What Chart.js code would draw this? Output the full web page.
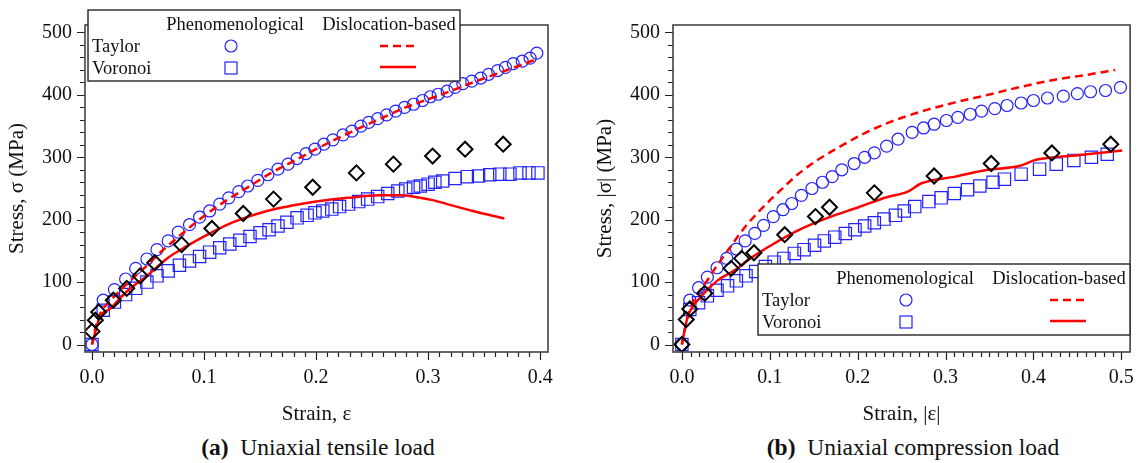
<!DOCTYPE html>
<html><head><meta charset="utf-8">
<script src="https://cdn.jsdelivr.net/npm/chart.js@4.4.1/dist/chart.umd.min.js"></script>
<style>
html,body{margin:0;padding:0;background:#fff;}
#wrap{position:relative;width:1148px;height:463px;overflow:hidden;background:#fff;}
canvas{position:absolute;top:0;}
.cap{position:absolute;top:433px;font-family:"Liberation Serif","Times New Roman",serif;font-size:23.5px;line-height:28px;color:#111;white-space:nowrap;text-align:center;width:400px;}
</style></head><body>
<div id="wrap">
<canvas id="cA" width="574" height="430" style="left:0"></canvas>
<canvas id="cB" width="574" height="430" style="left:574px"></canvas>
<div class="cap" style="left:118px"><b>(a)</b>&nbsp; Uniaxial tensile load</div>
<div class="cap" style="left:713px"><b>(b)</b>&nbsp; Uniaxial compression load</div>
</div>
<script>
// ---------- tick labels ----------
const yTicks = [0, 100, 200, 300, 400, 500];
const yTickLabels = ['0', '100', '200', '300', '400', '500'];
const xTicksA = [0, 0.1, 0.2, 0.3, 0.4];
const xTickLabelsA = ['0.0', '0.1', '0.2', '0.3', '0.4'];
const xTicksB = [0, 0.1, 0.2, 0.3, 0.4, 0.5];
const xTickLabelsB = ['0.0', '0.1', '0.2', '0.3', '0.4', '0.5'];

// ---------- (a) uniaxial tensile ----------
const tensTaylorPhenX = [0, 0.010, 0.020, 0.030, 0.039, 0.049, 0.058, 0.068, 0.077, 0.087, 0.096, 0.105, 0.114, 0.122, 0.131, 0.139, 0.148, 0.157, 0.166, 0.175, 0.183, 0.191, 0.199, 0.207, 0.215, 0.224, 0.232, 0.240, 0.247, 0.255, 0.263, 0.271, 0.279, 0.287, 0.295, 0.302, 0.309, 0.317, 0.324, 0.331, 0.339, 0.347, 0.354, 0.362, 0.369, 0.376, 0.384, 0.391, 0.397];
const tensTaylorPhenY = [0, 71, 88, 105, 122, 137, 152, 166, 180, 192, 204, 214, 225, 235, 245, 254, 263, 272, 281, 289, 298, 306, 313, 321, 328, 336, 342, 350, 356, 362, 368, 374, 380, 385, 391, 397, 401, 406, 412, 418, 422, 427, 433, 439, 444, 450, 454, 459, 467];
const tensVoronoiPhenX = [0, 0.010, 0.020, 0.030, 0.039, 0.049, 0.058, 0.068, 0.078, 0.087, 0.096, 0.105, 0.114, 0.123, 0.132, 0.141, 0.150, 0.158, 0.166, 0.174, 0.183, 0.192, 0.199, 0.206, 0.214, 0.221, 0.229, 0.238, 0.246, 0.255, 0.264, 0.273, 0.280, 0.287, 0.293, 0.300, 0.306, 0.313, 0.324, 0.335, 0.345, 0.355, 0.364, 0.373, 0.382, 0.390, 0.398];
const tensVoronoiPhenY = [0, 55, 68, 80, 90, 100, 110, 118, 127, 134, 141, 148, 155, 161, 167, 173, 179, 184, 190, 196, 203, 207, 211, 214, 217, 221, 225, 229, 233, 237, 242, 246, 249, 252, 254, 257, 260, 262, 266, 269, 270, 272, 273, 273, 275, 275, 275];
const tensTaylorDislX = [0, 0.005, 0.01, 0.02, 0.03, 0.04, 0.05, 0.06, 0.08, 0.10, 0.12, 0.14, 0.16, 0.18, 0.20, 0.22, 0.24, 0.26, 0.28, 0.30, 0.32, 0.34, 0.36, 0.38, 0.395];
const tensTaylorDislY = [0, 40, 57, 77, 95, 112, 128, 146, 177, 206, 231, 253, 275, 294, 313, 331, 348, 364, 380, 393, 406, 420, 433, 446, 456];
const tensVoronoiDislX = [0, 0.007, 0.016, 0.031, 0.049, 0.067, 0.085, 0.103, 0.126, 0.156, 0.18, 0.20, 0.228, 0.257, 0.275, 0.290, 0.305, 0.317, 0.34, 0.368];
const tensVoronoiDislY = [0, 44, 57, 85, 110, 138, 158, 176, 196, 214, 223, 229, 235, 239, 239, 236, 231, 225, 214, 202];
const tensExpX = [0, 0.003, 0.006, 0.019, 0.031, 0.043, 0.056, 0.080, 0.107, 0.135, 0.162, 0.197, 0.236, 0.269, 0.304, 0.333, 0.367];
const tensExpY = [21, 39, 52, 71, 90, 110, 131, 160, 186, 210, 233, 252, 275, 289, 302, 313, 321];

// ---------- (b) uniaxial compression ----------
const compTaylorPhenX = [0, 0.009, 0.019, 0.029, 0.040, 0.051, 0.062, 0.072, 0.083, 0.093, 0.104, 0.115, 0.125, 0.136, 0.148, 0.160, 0.171, 0.182, 0.196, 0.208, 0.219, 0.233, 0.246, 0.262, 0.275, 0.287, 0.301, 0.314, 0.328, 0.341, 0.356, 0.370, 0.386, 0.400, 0.416, 0.434, 0.450, 0.465, 0.482, 0.499];
const compTaylorPhenY = [0, 71, 91, 108, 123, 138, 153, 166, 178, 191, 205, 216, 226, 239, 250, 260, 269, 280, 290, 300, 307, 318, 329, 340, 347, 353, 359, 364, 369, 374, 378, 383, 387, 391, 395, 398, 402, 405, 407, 412];
const compVoronoiPhenX = [0, 0.009, 0.019, 0.029, 0.040, 0.052, 0.062, 0.073, 0.084, 0.095, 0.105, 0.116, 0.128, 0.139, 0.151, 0.162, 0.174, 0.186, 0.197, 0.208, 0.219, 0.230, 0.243, 0.253, 0.265, 0.281, 0.295, 0.310, 0.325, 0.339, 0.354, 0.367, 0.386, 0.407, 0.426, 0.446, 0.466, 0.484];
const compVoronoiPhenY = [0, 56, 67, 78, 87, 94, 102, 110, 117, 125, 132, 138, 146, 152, 159, 166, 172, 178, 184, 190, 195, 201, 207, 214, 221, 229, 235, 242, 248, 254, 260, 265, 273, 281, 289, 295, 300, 305];
const compTaylorDislX = [0, 0.007, 0.03, 0.056, 0.074, 0.091, 0.112, 0.134, 0.157, 0.186, 0.21, 0.236, 0.274, 0.311, 0.348, 0.386, 0.423, 0.46, 0.493];
const compTaylorDislY = [0, 47, 105, 158, 192, 218, 247, 275, 298, 322, 340, 356, 374, 388, 400, 413, 424, 432, 440];
const compVoronoiDislX = [0, 0.006, 0.022, 0.040, 0.059, 0.078, 0.104, 0.134, 0.168, 0.201, 0.233, 0.257, 0.272, 0.311, 0.348, 0.384, 0.403, 0.423, 0.449, 0.475, 0.501];
const compVoronoiDislY = [0, 41, 77, 102, 118, 138, 161, 184, 204, 220, 236, 245, 258, 269, 280, 286, 296, 300, 303, 307, 311];
const compExpX = [0, 0.005, 0.009, 0.026, 0.056, 0.068, 0.082, 0.117, 0.152, 0.168, 0.219, 0.287, 0.352, 0.421, 0.488];
const compExpY = [0, 40, 57, 82, 122, 138, 147, 176, 205, 220, 243, 270, 290, 307, 321];

// ---------- styling ----------
const FONT = '"Liberation Serif","Times New Roman",serif';
const BLUE = '#2222ff';
const RED = '#ff0000';
const DASH = [8, 5];
const TXT = '#111';

const pts = (xs, ys) => xs.map((x, i) => ({x: x, y: ys[i]}));

function datasets(d) {
  return [
    {label: 'Experiment', data: pts(d.expX, d.expY), pointStyle: 'rectRot', pointRadius: 7.5,
      borderColor: '#000', backgroundColor: 'rgba(0,0,0,0)', borderWidth: 2, showLine: false},
    {label: 'Taylor disl', data: pts(d.tdX, d.tdY), showLine: true, pointRadius: 0, borderColor: RED,
      borderWidth: 2.5, borderDash: DASH, cubicInterpolationMode: 'monotone', fill: false},
    {label: 'Voronoi disl', data: pts(d.vdX, d.vdY), showLine: true, pointRadius: 0, borderColor: RED,
      borderWidth: 2.5, cubicInterpolationMode: 'monotone', fill: false},
    {label: 'Taylor phen', data: pts(d.tpX, d.tpY), pointStyle: 'circle', pointRadius: 6,
      borderColor: BLUE, backgroundColor: 'rgba(0,0,0,0)', borderWidth: 1.2, showLine: false},
    {label: 'Voronoi phen', data: pts(d.vpX, d.vpY), pointStyle: 'rect', pointRadius: 8.7,
      borderColor: BLUE, backgroundColor: 'rgba(0,0,0,0)', borderWidth: 1.2, showLine: false}
  ];
}

const decor = {
  id: 'decor',
  afterDraw(chart, args, opts) {
    const ctx = chart.ctx, a = chart.chartArea, x = chart.scales.x, y = chart.scales.y;
    ctx.save();
    // ticks
    ctx.strokeStyle = '#222';
    ctx.lineWidth = 1.2;
    ctx.beginPath();
    for (let k = 0; k <= 25; k++) {
      const v = k * 20;
      const p = Math.round(y.getPixelForValue(v)) + 0.5;
      const len = (k % 5 === 0) ? 8 : 5;
      ctx.moveTo(a.left - len, p); ctx.lineTo(a.left, p);
    }
    for (let k = 0; k <= opts.xMinorCount; k++) {
      const v = k * 0.01;
      const p = Math.round(x.getPixelForValue(v)) + 0.5;
      const len = (k % 10 === 0) ? 8 : 5;
      ctx.moveTo(p, a.bottom); ctx.lineTo(p, a.bottom + len);
    }
    ctx.stroke();
    // box
    ctx.strokeStyle = '#444';
    ctx.lineWidth = 1.6;
    ctx.strokeRect(a.left, a.top, a.right - a.left, a.bottom - a.top);
    // legend
    const ox = opts.legX, oy = opts.legY, W = 372, H = 71;
    ctx.fillStyle = '#fff';
    ctx.fillRect(ox, oy, W, H);
    ctx.strokeStyle = '#333';
    ctx.lineWidth = 1.5;
    ctx.strokeRect(ox, oy, W, H);
    ctx.fillStyle = TXT;
    ctx.font = '18.5px ' + FONT;
    ctx.textBaseline = 'middle';
    ctx.textAlign = 'center';
    ctx.fillText('Phenomenological', ox + 147, oy + 15);
    ctx.fillText('Dislocation-based', ox + 301, oy + 15);
    ctx.textAlign = 'left';
    ctx.fillText('Taylor', ox + 4, oy + 37);
    ctx.fillText('Voronoi', ox + 4, oy + 59);
    // markers
    ctx.strokeStyle = BLUE;
    ctx.lineWidth = 1.2;
    ctx.beginPath(); ctx.arc(ox + opts.mkX, oy + 36, 6, 0, Math.PI * 2); ctx.stroke();
    ctx.strokeRect(ox + opts.mkX - 6, oy + 52, 12, 12);
    ctx.strokeStyle = RED;
    ctx.lineWidth = 2.5;
    ctx.setLineDash(DASH);
    ctx.beginPath(); ctx.moveTo(ox + 292, oy + 36); ctx.lineTo(ox + 328, oy + 36); ctx.stroke();
    ctx.setLineDash([]);
    ctx.beginPath(); ctx.moveTo(ox + 292, oy + 57); ctx.lineTo(ox + 328, oy + 57); ctx.stroke();
    ctx.restore();
  }
};

function build(id, d, ax) {
  new Chart(document.getElementById(id), {
    type: 'scatter',
    data: {datasets: datasets(d)},
    options: {
      responsive: false, animation: false, devicePixelRatio: 1,
      layout: {padding: {top: 7, right: ax.padRight, left: 0, bottom: 0}},
      plugins: {legend: {display: false}, tooltip: {enabled: false},
        decor: {legX: ax.legX, legY: ax.legY, mkX: ax.mkX, xMinorCount: ax.xMinorCount}},
      scales: {
        x: {
          type: 'linear', min: ax.xMin, max: ax.xMax,
          afterBuildTicks: s => { s.ticks = ax.xTicks.map(v => ({value: v})); },
          afterFit: s => { s.height = 78; },
          grid: {display: false, drawTicks: false}, border: {display: false},
          ticks: {padding: 14, color: TXT, autoSkip: false, maxRotation: 0,
            font: {family: FONT, size: 20}, callback: (v, i) => ax.xLabels[i]},
          title: {display: true, text: ax.xTitle, color: TXT, font: {family: FONT, size: 21},
            padding: {top: 0, bottom: 3}}
        },
        y: {
          type: 'linear', min: -12, max: 512,
          afterBuildTicks: s => { s.ticks = yTicks.map(v => ({value: v})); },
          afterFit: s => { s.width = ax.yWidth; },
          grid: {display: false, drawTicks: false}, border: {display: false},
          ticks: {padding: 13, color: TXT, autoSkip: false,
            font: {family: FONT, size: 20}, callback: (v, i) => yTickLabels[i]},
          title: {display: true, text: ax.yTitle, color: TXT, font: {family: FONT, size: 21},
            padding: {top: ax.yTitlePad, bottom: 0}}
        }
      }
    },
    plugins: [decor]
  });
}

build('cA', {
  tpX: tensTaylorPhenX, tpY: tensTaylorPhenY, vpX: tensVoronoiPhenX, vpY: tensVoronoiPhenY,
  tdX: tensTaylorDislX, tdY: tensTaylorDislY, vdX: tensVoronoiDislX, vdY: tensVoronoiDislY,
  expX: tensExpX, expY: tensExpY
}, {
  xMin: -0.00625, xMax: 0.407, xTicks: xTicksA, xLabels: xTickLabelsA, xMinorCount: 40,
  xTitle: 'Strain, ε', yTitle: 'Stress, σ (MPa)', yWidth: 85, yTitlePad: 5, padRight: 26,
  legX: 88, legY: 10, mkX: 143
});

build('cB', {
  tpX: compTaylorPhenX, tpY: compTaylorPhenY, vpX: compVoronoiPhenX, vpY: compVoronoiPhenY,
  tdX: compTaylorDislX, tdY: compTaylorDislY, vdX: compVoronoiDislX, vdY: compVoronoiDislY,
  expX: compExpX, expY: compExpY
}, {
  xMin: -0.0101, xMax: 0.510, xTicks: xTicksB, xLabels: xTickLabelsB, xMinorCount: 50,
  xTitle: 'Strain, |ε|', yTitle: 'Stress, |σ| (MPa)', yWidth: 99, yTitlePad: 19, padRight: 10,
  legX: 184, legY: 264, mkX: 148
});
</script>
</body></html>
